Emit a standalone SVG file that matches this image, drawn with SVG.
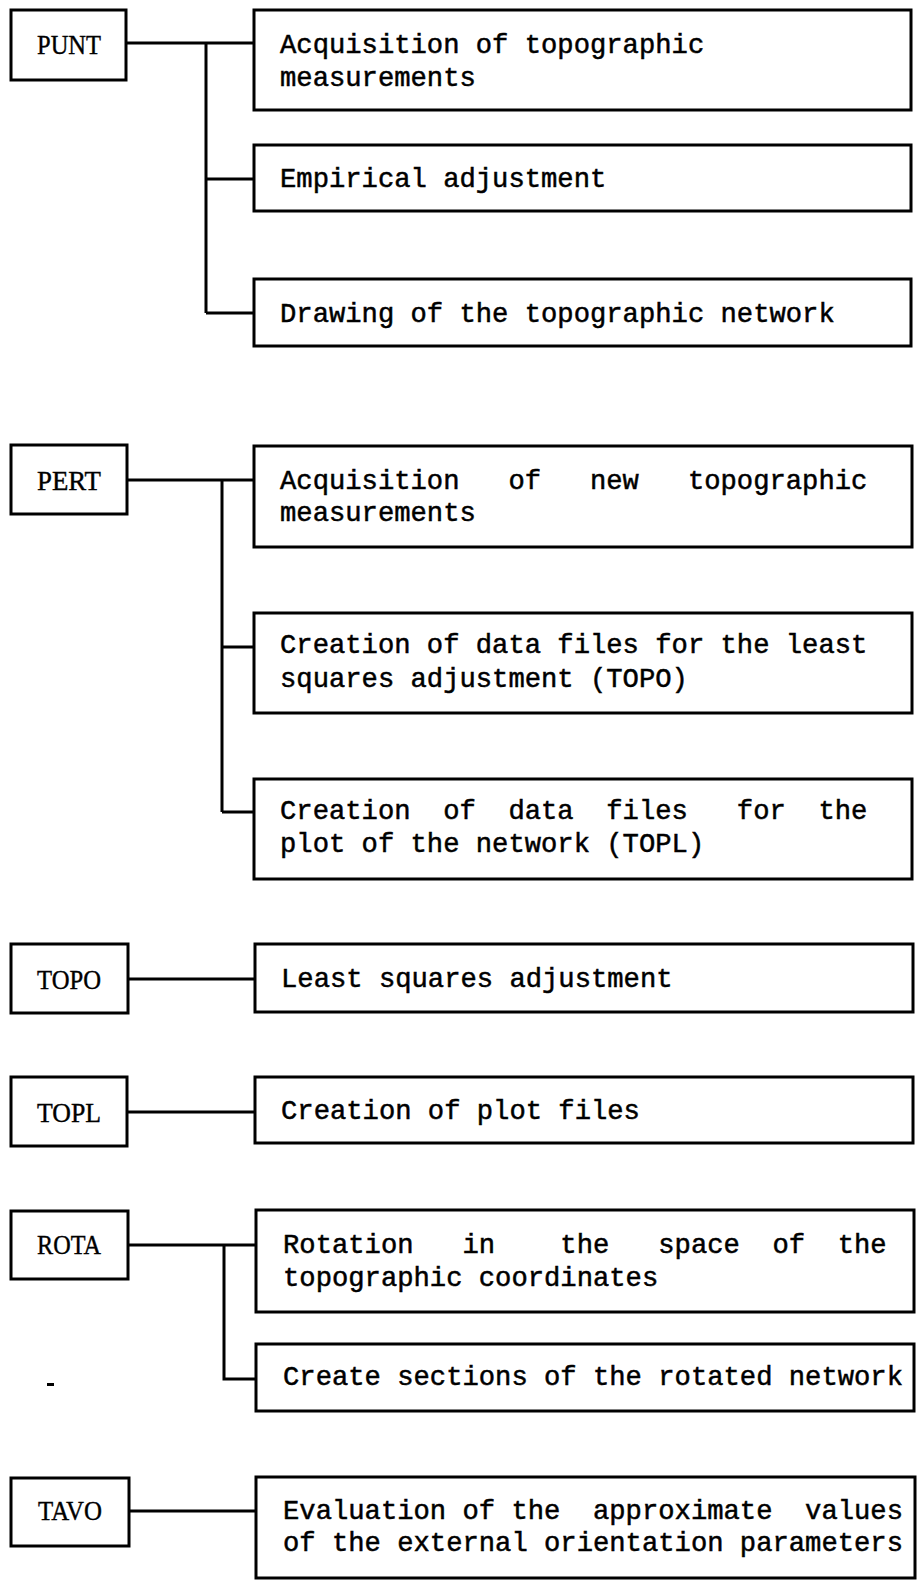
<svg xmlns="http://www.w3.org/2000/svg" width="917" height="1584" viewBox="0 0 917 1584">
<style>
  .box { fill: #fff; stroke: #000; stroke-width: 3; }
  .lbl { font-family: "Liberation Serif", "Times New Roman", serif; font-size: 28px; fill: #000; stroke: #000; stroke-width: 0.4; text-anchor: middle; }
  .t { font-family: "Liberation Mono", "Courier New", monospace; font-size: 27.2px; fill: #000; stroke: #000; stroke-width: 0.5; white-space: pre; }
  .conn { fill: none; stroke: #000; stroke-width: 3; }
</style>
<rect width="917" height="1584" fill="#fff"/>

<g id="connectors">
  <path class="conn" d="M126 43 H254 M206 43 V313 M206 179 H254 M206 313 H254"/>
  <path class="conn" d="M127 480 H254 M222 480 V812 M222 647 H254 M222 812 H254"/>
  <path class="conn" d="M128 979 H255"/>
  <path class="conn" d="M127 1112 H255"/>
  <path class="conn" d="M128 1245 H256 M224 1245 V1379 H256"/>
  <path class="conn" d="M129 1511 H256"/>
</g>

<g id="punt">
  <rect class="box" x="11" y="10" width="115" height="70"/>
  <text class="lbl" x="69" y="54" textLength="64" lengthAdjust="spacingAndGlyphs">PUNT</text>
</g>
<g id="punt-acq">
  <rect class="box" x="254" y="10" width="657" height="100"/>
  <text class="t" x="280" y="53" xml:space="preserve">Acquisition of topographic</text>
  <text class="t" x="280" y="86">measurements</text>
</g>
<g id="punt-emp">
  <rect class="box" x="254" y="145" width="657" height="66"/>
  <text class="t" x="280" y="187">Empirical adjustment</text>
</g>
<g id="punt-draw">
  <rect class="box" x="254" y="279" width="657" height="67"/>
  <text class="t" x="280" y="322">Drawing of the topographic network</text>
</g>

<g id="pert">
  <rect class="box" x="11" y="445" width="116" height="69"/>
  <text class="lbl" x="69" y="490" textLength="64" lengthAdjust="spacingAndGlyphs">PERT</text>
</g>
<g id="pert-acq">
  <rect class="box" x="254" y="446" width="658" height="101"/>
  <text class="t" x="280" y="489" xml:space="preserve">Acquisition   of   new   topographic</text>
  <text class="t" x="280" y="521">measurements</text>
</g>
<g id="pert-topo">
  <rect class="box" x="254" y="613" width="658" height="100"/>
  <text class="t" x="280" y="653">Creation of data files for the least</text>
  <text class="t" x="280" y="687">squares adjustment (TOPO)</text>
</g>
<g id="pert-topl">
  <rect class="box" x="254" y="779" width="658" height="100"/>
  <text class="t" x="280" y="819" xml:space="preserve">Creation  of  data  files   for  the</text>
  <text class="t" x="280" y="852">plot of the network (TOPL)</text>
</g>

<g id="topo">
  <rect class="box" x="11" y="944" width="117" height="69"/>
  <text class="lbl" x="69" y="989" textLength="64" lengthAdjust="spacingAndGlyphs">TOPO</text>
</g>
<g id="topo-lsq">
  <rect class="box" x="255" y="944" width="658" height="68"/>
  <text class="t" x="281" y="987">Least squares adjustment</text>
</g>

<g id="topl">
  <rect class="box" x="11" y="1077" width="116" height="69"/>
  <text class="lbl" x="69" y="1122" textLength="64" lengthAdjust="spacingAndGlyphs">TOPL</text>
</g>
<g id="topl-plot">
  <rect class="box" x="255" y="1077" width="658" height="66"/>
  <text class="t" x="281" y="1119">Creation of plot files</text>
</g>

<g id="rota">
  <rect class="box" x="11" y="1211" width="117" height="68"/>
  <text class="lbl" x="69" y="1254" textLength="64" lengthAdjust="spacingAndGlyphs">ROTA</text>
</g>
<g id="rota-rot">
  <rect class="box" x="256" y="1210" width="658" height="102"/>
  <text class="t" x="283" y="1253" xml:space="preserve">Rotation   in    the   space  of  the</text>
  <text class="t" x="283" y="1286">topographic coordinates</text>
</g>
<g id="rota-sec">
  <rect class="box" x="256" y="1344" width="658" height="67"/>
  <text class="t" x="283" y="1385">Create sections of the rotated network</text>
</g>
<rect x="47" y="1383" width="7" height="3" fill="#000"/>

<g id="tavo">
  <rect class="box" x="11" y="1478" width="118" height="68"/>
  <text class="lbl" x="70" y="1520" textLength="64" lengthAdjust="spacingAndGlyphs">TAVO</text>
</g>
<g id="tavo-eval">
  <rect class="box" x="256" y="1477" width="659" height="101"/>
  <text class="t" x="283" y="1519" xml:space="preserve">Evaluation of the  approximate  values</text>
  <text class="t" x="283" y="1551">of the external orientation parameters</text>
</g>
</svg>
